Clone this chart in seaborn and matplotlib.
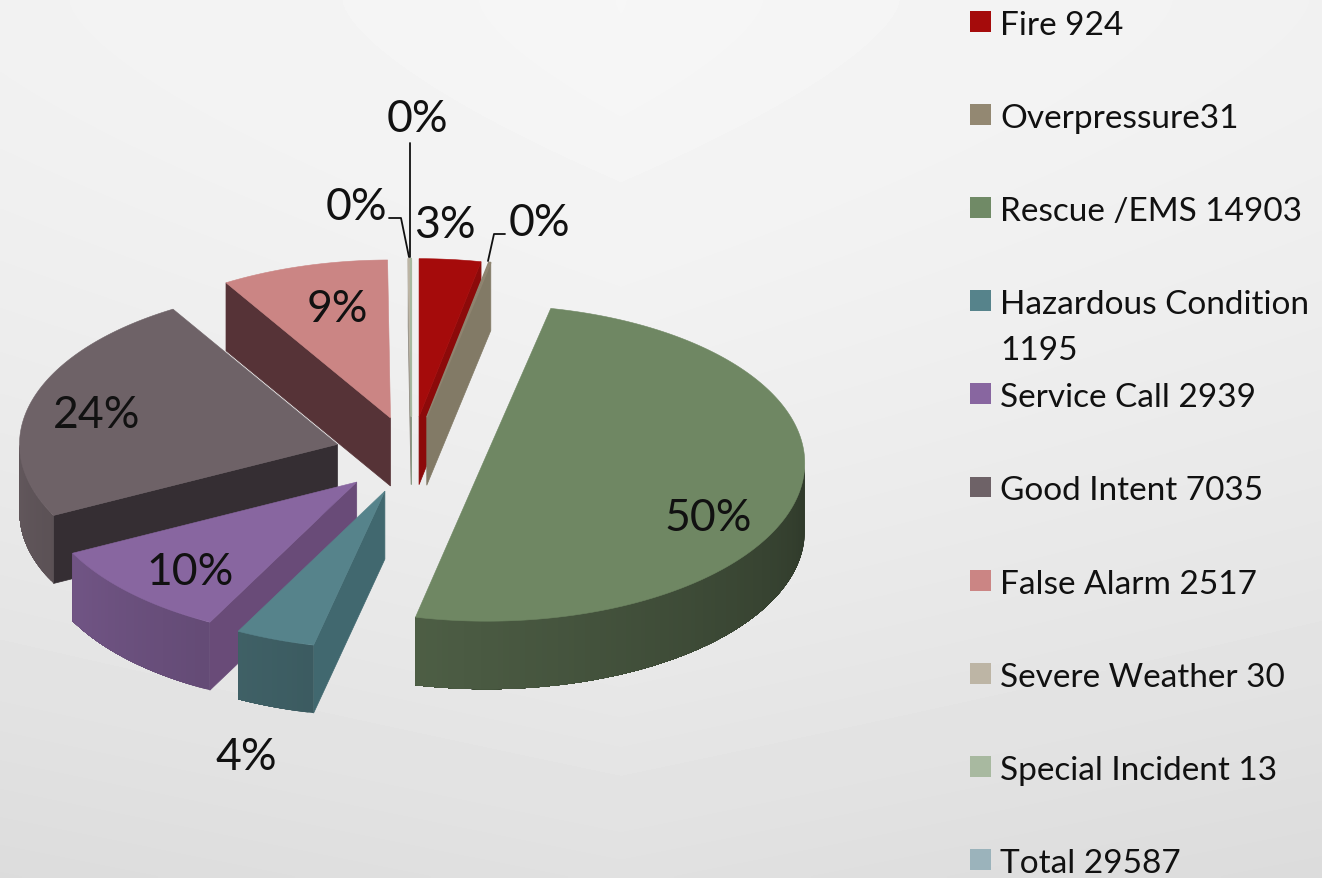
import numpy as np
import seaborn as sns
import matplotlib.pyplot as plt
from matplotlib.patches import Polygon

# %%
names = ["Fire", "Overpressure", "Rescue /EMS", "Hazardous Condition", "Service Call",
         "Good Intent", "False Alarm", "Severe Weather", "Special Incident"]
counts = [924, 31, 14903, 1195, 2939, 7035, 2517, 30, 13]

legend_labels = ["Fire 924", "Overpressure31", "Rescue /EMS 14903", "Hazardous Condition\n1195",
                 "Service Call 2939", "Good Intent 7035", "False Alarm 2517",
                 "Severe Weather 30", "Special Incident 13", "Total 29587"]

top_colors = ["#a50b0b", "#8e8470", "#6f8763", "#56838b", "#8866a0",
              "#6e6267", "#cb8584", "#bdb5a5", "#a8b9a0"]
wall_colors = ["#8c0a0a", "#827a66", "#4a5a3a", "#41686f", "#694b78",
               "#352e33", "#563337", "#8f8a80", "#8a9a84"]
legend_colors = ["#a50b0b", "#938872", "#708a66", "#56838b", "#8866a0",
                 "#6e6267", "#cb8584", "#bdb5a5", "#a8b9a0", "#9bb3bb"]

# pie geometry, in picture pixels
CX, CY = 411.5, 456
RX, RY = 318, 158
DEPTH = 68
EXPLODE = 77
draw_order = [6, 7, 8, 0, 1, 5, 4, 3, 2]

label_pos = [(445, 226), (539, 224), (708, 519), (246, 758), (190, 573),
             (97, 416), (337, 310), (356, 208), (417, 120)]

# %%
sns.set_style("white")
plt.rcParams['font.family'] = ['Lato', 'DejaVu Sans']

fig = plt.figure(figsize=(13.22, 8.79), dpi=100)
ax = fig.add_axes([0, 0, 1, 1])
ax.set_xlim(0, 1322)
ax.set_ylim(879, 0)
ax.axis("off")

# soft grey backdrop, darker towards the bottom and the sides
yy, xx = np.mgrid[0:879:4, 0:1322:4]
backdrop = 0.965 - 0.085 * (yy / 879) ** 1.5 - 0.02 * np.abs(xx - 620) / 700
ax.imshow(backdrop, cmap="gray", vmin=0, vmax=1,
          extent=[0, 1322, 879, 0], aspect="auto", zorder=0, interpolation="bilinear")

# %%
total = sum(counts)
edges = np.cumsum([0] + counts) / total * 360


def rim(cx, cy, t):
    r = np.radians(t)
    return cx + RX * np.sin(r), cy - RY * np.cos(r)


def cut_wall(cx, cy, t, color, z):
    x, y = rim(cx, cy, t)
    pts = [(cx, cy), (x, y), (x, y + DEPTH), (cx, cy + DEPTH)]
    ax.add_patch(Polygon(pts, fc=color, ec=color, lw=0.5, zorder=z))


for rank, i in enumerate(draw_order):
    t0, t1 = edges[i], edges[i + 1]
    mid = np.radians((t0 + t1) / 2)
    cx = CX + EXPLODE * np.sin(mid)
    cy = CY - EXPLODE * 0.5 * np.cos(mid)
    z = 2 + rank
    base = np.array(sns.color_palette([top_colors[i]])[0])

    if np.sin(np.radians(t1)) > 0.001:
        cut_wall(cx, cy, t1, wall_colors[i], z)
    if np.sin(np.radians(t0)) < 0:
        cut_wall(cx, cy, t0, wall_colors[i], z)

    # outer wall, shaded by angle; each step paints over the rest so no seams show
    lo, hi = max(t0, 90), min(t1, 270)
    if hi > lo:
        steps = np.linspace(lo, hi, max(2, int(hi - lo) + 2))
        for a, b in zip(steps[:-1], steps[1:]):
            run = [rim(cx, cy, t) for t in np.linspace(a, hi, max(2, int(hi - a) + 2))]
            front = [(x, y + DEPTH) for x, y in run[::-1]]
            shade = base * (0.42 + 0.48 * ((a + b) / 2 - 90) / 180)
            ax.add_patch(Polygon(run + front, fc=shade, ec="none", zorder=z))

    arc = [rim(cx, cy, t) for t in np.linspace(t0, t1, max(3, int(t1 - t0) * 2))]
    lw = 1.0 if counts[i] < 100 else 0.4
    # half the pie or more reads as one straight cut edge
    pts = arc if t1 - t0 >= 180 else [(cx, cy)] + arc
    ax.add_patch(Polygon(pts, fc=top_colors[i], ec=top_colors[i], lw=lw, zorder=z + 0.5))

# %%
# percent labels and leader lines
for i, (x, y) in enumerate(label_pos):
    ax.text(x, y, f"{counts[i] / total:.0%}", ha="center", va="center",
            fontsize=32, color="#111111", zorder=40)

ax.plot([410, 410], [144, 258], color="#111111", lw=1.3, zorder=41)
ax.plot([389, 401, 409], [219, 219, 258], color="#111111", lw=1.3, zorder=41)
ax.plot([505, 494, 488], [235, 235, 262], color="#111111", lw=1.3, zorder=41)

# %%
# legend column
rows = 22.5 + 93.1 * np.arange(len(legend_labels))
sns.scatterplot(x=[980.5] * len(rows), y=rows, hue=legend_labels, palette=legend_colors,
                marker="s", s=228, linewidth=0, legend=False, ax=ax, zorder=40)
ax.set_xlim(0, 1322)
ax.set_ylim(879, 0)
for label, y in zip(legend_labels, rows):
    for n, line in enumerate(label.split("\n")):
        ax.text(1000, y + 12.5 + 46 * n, line, va="baseline", ha="left", fontsize=24,
                color="#111111", zorder=40)

fig.savefig("out.png", dpi=100)
